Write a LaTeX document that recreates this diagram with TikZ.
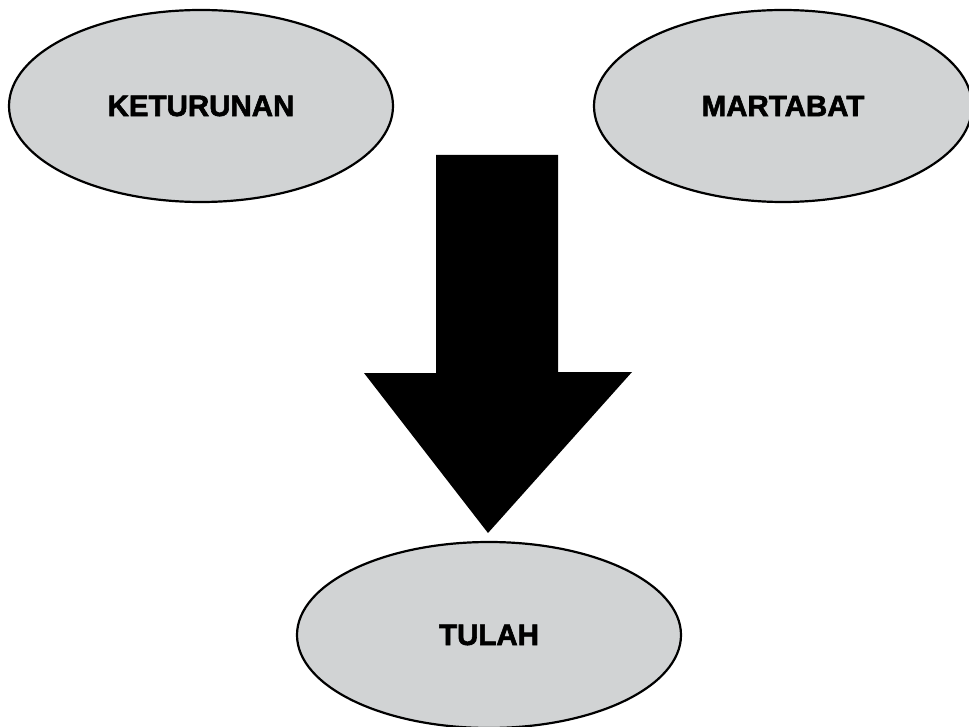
\documentclass[tikz,border=0pt]{standalone}
\usepackage{fontspec}
\setmainfont{Liberation Sans}[BoldFeatures={FakeBold=2}]
\usetikzlibrary{shapes.geometric}
\definecolor{ovalgray}{RGB}{209,211,212}
\tikzset{
  oval/.style={ellipse, draw=black, line width=2.2pt, fill=ovalgray, inner sep=0pt,
    minimum width=384pt, minimum height=192pt,
    font=\fontsize{29.5}{33}\selectfont\bfseries},
  blockarrow/.style={fill=black, draw=none}
}
\begin{document}
\begin{tikzpicture}[x=1pt,y=-1pt]
\useasboundingbox (0,0) rectangle (969,727);
\node[oval] (ket) at (201,106) {KETURUNAN};
\node[oval, minimum width=378pt] (mar) at (783,106) {MARTABAT};
\node[oval, minimum height=186pt] (tul) at (489,635) {TULAH};
\coordinate (tip) at (488,533);
\fill[blockarrow] (436,155) -- (558,155) -- (558,372) -- (632,372) -- (tip) -- (364,373) -- (436,373) -- cycle;
\end{tikzpicture}
\end{document}
